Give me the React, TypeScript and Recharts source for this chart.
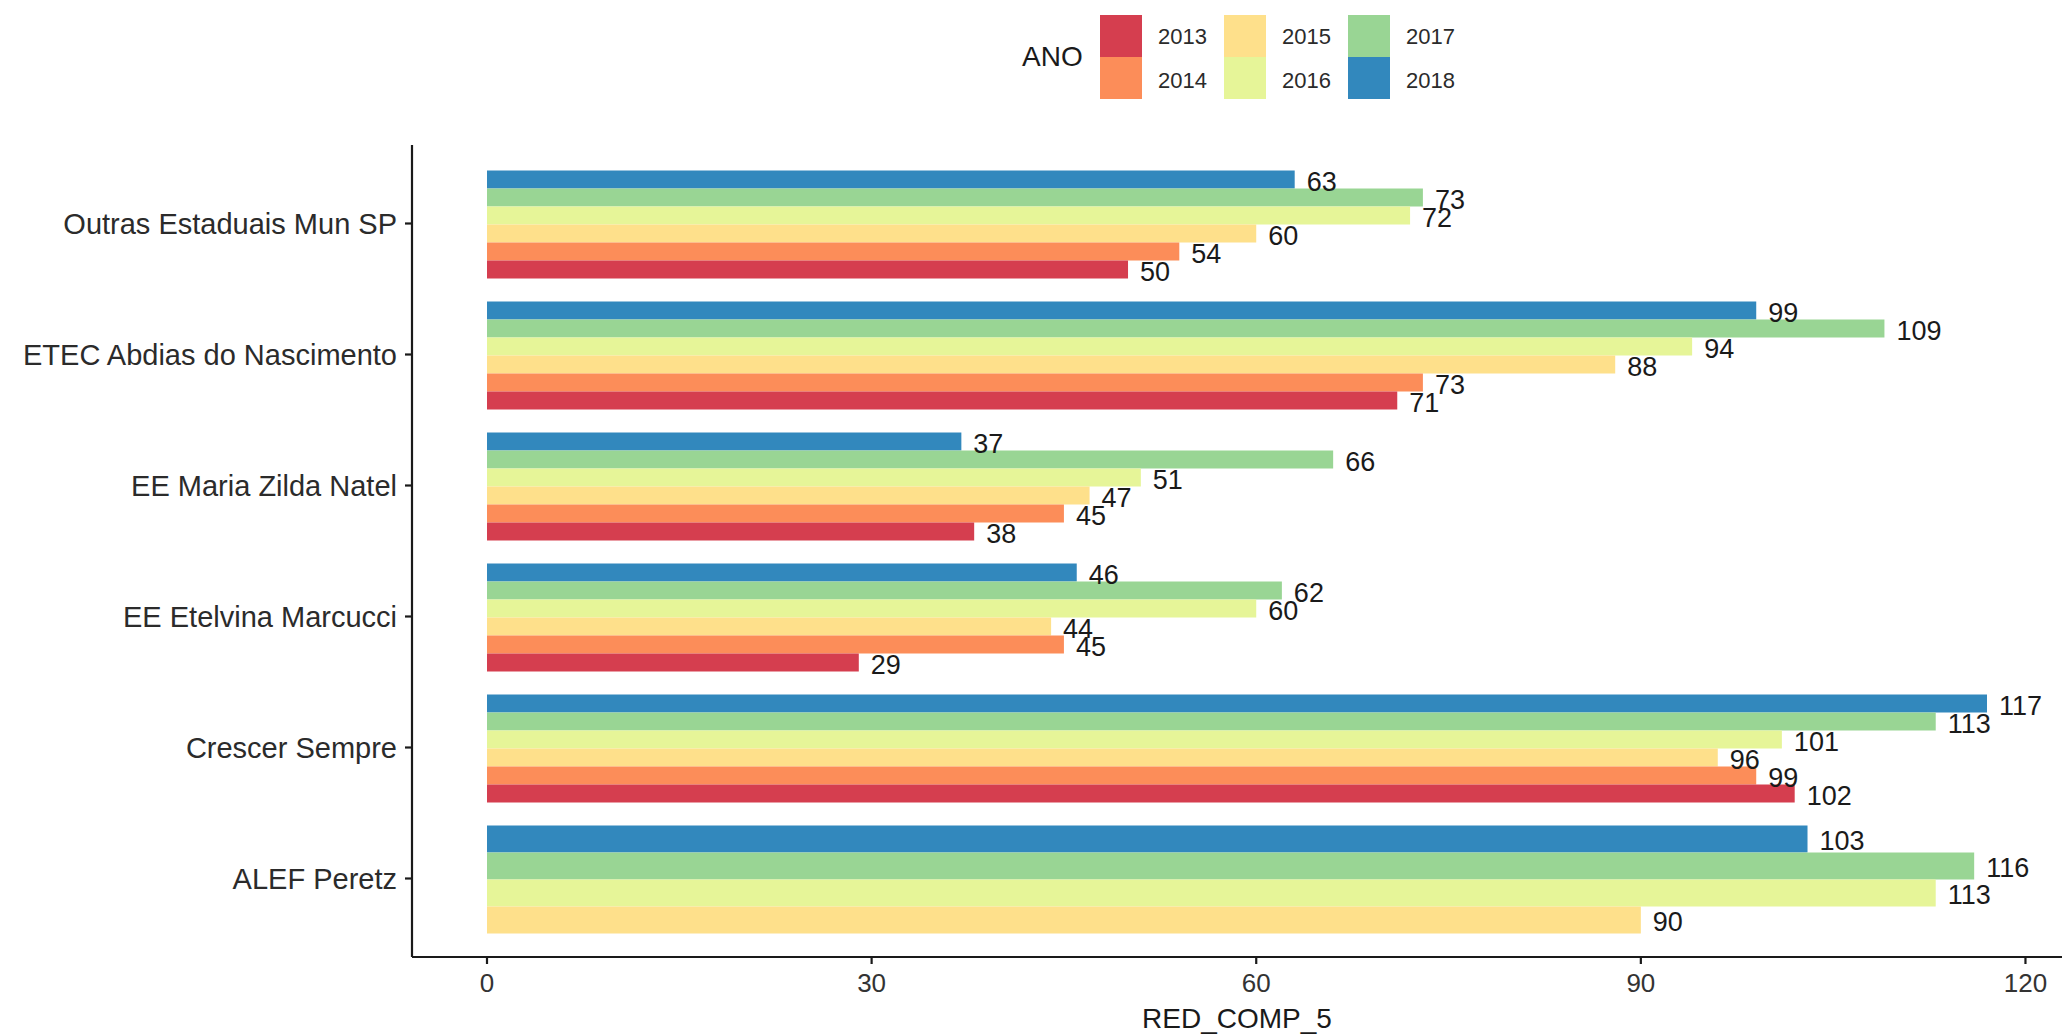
import React from 'react';
import { BarChart, Bar, XAxis, YAxis, LabelList, Label } from 'recharts';

const schools = [
  'Outras Estaduais Mun SP',
  'ETEC Abdias do Nascimento',
  'EE Maria Zilda Natel',
  'EE Etelvina Marcucci',
  'Crescer Sempre',
  'ALEF Peretz',
];

const v2013 = [50, 71, 38, 29, 102, null];
const v2014 = [54, 73, 45, 45, 99, null];
const v2015 = [60, 88, 47, 44, 96, 90];
const v2016 = [72, 94, 51, 60, 101, 113];
const v2017 = [73, 109, 66, 62, 113, 116];
const v2018 = [63, 99, 37, 46, 117, 103];

const years = ['2013', '2014', '2015', '2016', '2017', '2018'];
const COLORS = ['#D53E4F', '#FC8D59', '#FEE08B', '#E6F598', '#99D594', '#3288BD'];
const xTicks = [0, 30, 60, 90, 120];

const rows = schools.map((school, i) => ({
  school,
  '2013': v2013[i],
  '2014': v2014[i],
  '2015': v2015[i],
  '2016': v2016[i],
  '2017': v2017[i],
  '2018': v2018[i],
}));

// bars are drawn top to bottom: 2018 first, 2013 last (like ggplot's flipped dodge)
const ORDER = [...years].reverse();

// ggplot dodge: when a group misses some years, the remaining bars fill the whole group
const slotFor = (row: any, key: string, y: number, height: number) => {
  const slot = ORDER.indexOf(key);
  const present = ORDER.filter((k) => row[k] != null);
  const groupTop = y - slot * height;
  const h = (height * ORDER.length) / present.length;
  return { top: groupTop + present.indexOf(key) * h, h };
};

const makeShape = (key: string) => (props: any) => {
  const { x, y, width, height, payload, fill } = props;
  if (payload == null || payload[key] == null) return <g />;
  const { top, h } = slotFor(payload, key, y, height);
  return <rect x={x} y={top} width={Math.max(width, 0)} height={h} fill={fill} />;
};

const makeLabel = (key: string) => (props: any) => {
  const { x, y, width, height, index, value } = props;
  const row = rows[index];
  if (!row || row[key] == null || value == null) return null;
  const { top, h } = slotFor(row, key, Number(y), Number(height));
  return (
    <text
      x={Number(x) + Number(width) + 12}
      y={top + h / 2 + 2}
      fontSize={27}
      fill="#1a1a1a"
      dominantBaseline="central"
    >
      {value}
    </text>
  );
};

const Legend = () => (
  <div style={{ position: 'absolute', left: 0, top: 0, width: 2062, height: 110, pointerEvents: 'none' }}>
    <div style={{ position: 'absolute', left: 1022, top: 41, fontSize: 28, lineHeight: '32px', color: '#1a1a1a' }}>ANO</div>
    {years.map((yr, i) => {
      const col = Math.floor(i / 2);
      const row = i % 2;
      return (
        <React.Fragment key={yr}>
          <div
            style={{
              position: 'absolute',
              left: 1100 + col * 124,
              top: 15 + row * 42,
              width: 42,
              height: 42,
              background: COLORS[i],
            }}
          />
          <div
            style={{
              position: 'absolute',
              left: 1158 + col * 124,
              top: 24 + row * 44,
              fontSize: 22,
              lineHeight: '26px',
              color: '#2b2b2b',
            }}
          >
            {yr}
          </div>
        </React.Fragment>
      );
    })}
  </div>
);

export default function App() {
  return (
    <div
      style={{
        position: 'absolute',
        left: 0,
        top: 0,
        width: 2062,
        height: 1035,
        background: '#fff',
        fontFamily: '"Liberation Sans", Arial, Helvetica, sans-serif',
        overflow: 'hidden',
      }}
    >
      <Legend />
      <BarChart
        width={2062}
        height={1035}
        data={rows}
        layout="vertical"
        margin={{ top: 145, right: 0, bottom: 0, left: 0 }}
        barCategoryGap={12.5}
        barGap={0}
      >
        <XAxis
          type="number"
          domain={[-5.85, 122.85]}
          ticks={xTicks}
          allowDataOverflow
          height={78}
          tickSize={7}
          tickMargin={10}
          tick={{ fontSize: 26, fill: '#333' }}
          axisLine={{ stroke: '#1a1a1a', strokeWidth: 2.2 }}
          tickLine={{ stroke: '#1a1a1a', strokeWidth: 2.2 }}
        >
          <Label value="RED_COMP_5" position="insideBottom" offset={7} fontSize={28} fill="#1a1a1a" />
        </XAxis>
        <YAxis
          type="category"
          dataKey="school"
          width={412}
          padding={{ top: 13, bottom: 13 }}
          tickSize={7}
          tickMargin={8}
          tick={{ fontSize: 29, fill: '#2b2b2b' }}
          axisLine={{ stroke: '#1a1a1a', strokeWidth: 2.2 }}
          tickLine={{ stroke: '#1a1a1a', strokeWidth: 2.2 }}
          interval={0}
        />
        {ORDER.map((yr) => (
          <Bar
            key={yr}
            dataKey={yr}
            fill={COLORS[years.indexOf(yr)]}
            isAnimationActive={false}
            shape={makeShape(yr)}
          >
            <LabelList dataKey={yr} content={makeLabel(yr)} />
          </Bar>
        ))}
      </BarChart>
    </div>
  );
}
